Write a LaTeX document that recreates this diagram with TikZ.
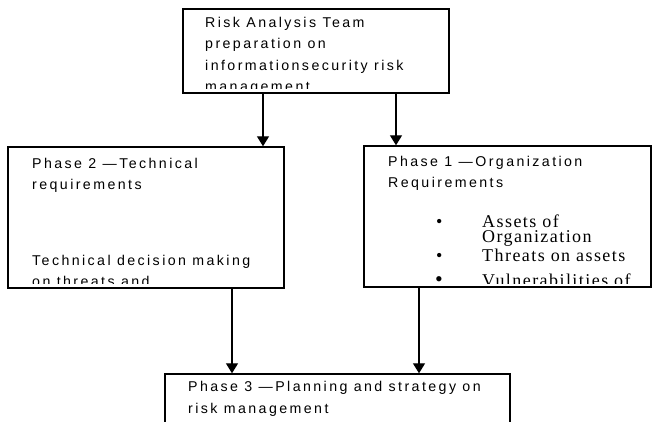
\documentclass[tikz,border=0pt]{standalone}
\usepackage{fontspec}
\setmainfont{Liberation Sans}
\newfontfamily\boxfont[LetterSpace=17]{Liberation Sans}
\newfontfamily\listfont[LetterSpace=8]{Liberation Serif}
\usetikzlibrary{arrows.meta}

\begin{document}
\begin{tikzpicture}[x=1pt, y=-1pt,
    box/.style={draw, line width=1.4pt, inner sep=0pt},
    txt/.style={anchor=base west, inner sep=0pt, align=left,
      font=\boxfont\fontsize{14.2}{21.5}\selectfont},
    item/.style={anchor=base west, inner sep=0pt,
      font=\listfont\fontsize{18}{18}\selectfont},
    arr/.style={-{Triangle[width=12pt,length=10pt]}, line width=1.3pt}]
  \path[use as bounding box, clip] (0,0) rectangle (652,421);

  % the four boxes
  \node[box, minimum width=266pt, minimum height=84pt] (risk) at (316,51) {};
  \node[box, minimum width=276pt, minimum height=141pt] (phasetwo) at (146,217.5) {};
  \node[box, minimum width=287pt, minimum height=141pt] (phaseone) at (507.5,216.5) {};
  \node[box, minimum width=345pt, minimum height=80pt] (phasethree) at (337.5,414) {};

  % texts, cut off inside their boxes (placed at the baseline of their last line)
  \begin{scope}
    \clip (risk.north west) rectangle ([yshift=5pt]risk.south east);
    \node[txt] (risk-text) at (205,91.5)
      {Risk Analysis Team\\preparation on\\informationsecurity risk\\management};
  \end{scope}
  \begin{scope}
    \clip (phasetwo.north west) rectangle ([yshift=5pt]phasetwo.south east);
    \node[txt] (phasetwo-text) at (32,286.5)
      {Phase 2 —Technical\\requirements\\[54pt]Technical decision making\\on threats and};
  \end{scope}
  \begin{scope}
    \clip (phaseone.north west) rectangle ([yshift=4pt]phaseone.south east);
    \node[txt] (phaseone-text) at (388,187.5) {Phase 1 —Organization\\Requirements};
    \node[item] (bullet-1) at (436,227) {\textbullet};
    \node[item] (assets) at (482,227) {Assets of};
    \node[item] (organization) at (482,242.5) {Organization};
    \node[item] (bullet-2) at (436,261.5) {\textbullet};
    \node[item] (threats) at (482,261.5) {Threats on assets};
    \node[item, font=\listfont\fontsize{22}{22}\selectfont] (bullet-3) at (435,286) {\textbullet};
    \node[item] (vulnerabilities) at (482,286) {Vulnerabilities of};
  \end{scope}
  \begin{scope}
    \clip (phasethree.north west) rectangle (phasethree.south east);
    \node[txt] (phasethree-text) at (188,413)
      {Phase 3 —Planning and strategy on\\risk management};
  \end{scope}

  % arrows
  \draw[arr] ([xshift=-53pt]risk.south) -- ([xshift=-53pt]risk.south |- phasetwo.north);
  \draw[arr] ([xshift=80pt]risk.south) -- ([xshift=80pt]risk.south |- phaseone.north);
  \draw[arr] ([xshift=86pt]phasetwo.south) -- ([xshift=86pt]phasetwo.south |- phasethree.north);
  \draw[arr] ([xshift=-88.5pt]phaseone.south) -- ([xshift=-88.5pt]phaseone.south |- phasethree.north);
\end{tikzpicture}
\end{document}
